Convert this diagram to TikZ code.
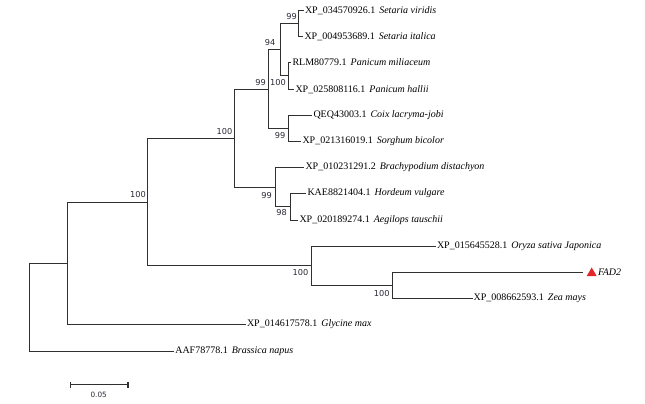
\documentclass[tikz,border=0pt]{standalone}
\usepackage{fontspec}
\setmainfont{Liberation Serif}
\newfontfamily\labfont{DejaVu Sans}
\usetikzlibrary{arrows.meta,shapes.geometric}
\definecolor{treeline}{HTML}{303030}
\definecolor{labcol}{HTML}{2A2A36}
\definecolor{fadred}{HTML}{E3262B}
\begin{document}
\begin{tikzpicture}[x=1pt,y=-1pt,
  branch/.style={draw=treeline,line width=1.8pt,line cap=rect},
  leaf/.style={anchor=west,inner xsep=1.8pt,inner ysep=0pt,font=\fontsize{10}{12}\selectfont,text=black},
  boot/.style={inner sep=0pt,font=\labfont\fontsize{8.2}{9}\selectfont,text=labcol},
  tri/.style={regular polygon,regular polygon sides=3,fill=fadred,minimum size=11.5pt,inner sep=0pt}]
\fill[white] (0,0) rectangle (645,404);
\useasboundingbox (0,0) rectangle (645,404);
% internal nodes
\coordinate (root) at (29.5,307.5);
\coordinate (A) at (67.5,263.5);
\coordinate (B) at (147.5,202.5);
\coordinate (C) at (234.5,138.5);
\coordinate (D) at (311.5,265.5);
\coordinate (I) at (392.5,285.5);
\coordinate (E) at (268.5,89.5);
\coordinate (H) at (280.5,49.5);
\coordinate (J) at (298.5,23.5);
\coordinate (K) at (288.5,75.5);
\coordinate (G) at (288.5,128.5);
\coordinate (M) at (275.5,187.5);
\coordinate (L) at (290.5,206.5);
% leaves
\node[leaf] (viridis) at (303,10.5) {XP\_034570926.1\hspace{0.4em}\textit{Setaria viridis}};
\node[leaf] (italica) at (302.5,36.5) {XP\_004953689.1\hspace{0.4em}\textit{Setaria italica}};
\node[leaf] (milia) at (290.5,62.5) {RLM80779.1\hspace{0.4em}\textit{Panicum miliaceum}};
\node[leaf] (hallii) at (293.5,89.5) {XP\_025808116.1\hspace{0.4em}\textit{Panicum hallii}};
\node[leaf] (coix) at (311.5,115.5) {QEQ43003.1\hspace{0.4em}\textit{Coix lacryma-jobi}};
\node[leaf] (sorghum) at (300.5,141.5) {XP\_021316019.1\hspace{0.4em}\textit{Sorghum bicolor}};
\node[leaf] (brachy) at (303.5,167.5) {XP\_010231291.2\hspace{0.4em}\textit{Brachypodium distachyon}};
\node[leaf] (hordeum) at (305.5,193.5) {KAE8821404.1\hspace{0.4em}\textit{Hordeum vulgare}};
\node[leaf] (aegilops) at (297.5,220.5) {XP\_020189274.1\hspace{0.4em}\textit{Aegilops tauschii}};
\node[leaf] (oryza) at (435,246.5) {XP\_015645528.1\hspace{0.4em}\textit{Oryza sativa Japonica}};
\coordinate (fadend) at (581.7,272.5);
\node[tri] (fadtri) at (591.7,273.2) {};
\node[leaf,anchor=west] (fad) at (596,272.5) {\textit{FAD2}};
\node[leaf] (zea) at (471.7,298.5) {XP\_008662593.1\hspace{0.4em}\textit{Zea mays}};
\node[leaf] (glycine) at (245,324.5) {XP\_014617578.1\hspace{0.4em}\textit{Glycine max}};
\node[leaf] (brassica) at (173.3,351.5) {AAF78778.1\hspace{0.4em}\textit{Brassica napus}};
% branches
\draw[branch] (root) |- (A);
\draw[branch] (root) |- (brassica.west);
\draw[branch] (A) |- (B);
\draw[branch] (A) |- (glycine.west);
\draw[branch] (B) |- (C);
\draw[branch] (B) |- (D);
\draw[branch] (C) |- (E);
\draw[branch] (C) |- (M);
\draw[branch] (E) |- (H);
\draw[branch] (E) |- (G);
\draw[branch] (H) |- (J);
\draw[branch] (H) |- (K);
\draw[branch] (J) |- (viridis.west);
\draw[branch] (J) |- (italica.west);
\draw[branch] (K) |- (milia.west);
\draw[branch] (K) |- (hallii.west);
\draw[branch] (G) |- (coix.west);
\draw[branch] (G) |- (sorghum.west);
\draw[branch] (M) |- (brachy.west);
\draw[branch] (M) |- (L);
\draw[branch] (L) |- (hordeum.west);
\draw[branch] (L) |- (aegilops.west);
\draw[branch] (D) |- (oryza.west);
\draw[branch] (D) |- (I);
\draw[branch] (I) |- (fadend);
\draw[branch] (I) |- (zea.west);
% bootstrap values
\node[boot] (bJ) at (291.5,16.5) {99};
\node[boot] (bH) at (270,42.5) {94};
\node[boot] (bE) at (260.5,82.5) {99};
\node[boot] (bK) at (278,83) {100};
\node[boot] (bG) at (280,135.5) {99};
\node[boot] (bC) at (224.5,131.5) {100};
\node[boot] (bM) at (266.5,195.5) {99};
\node[boot] (bL) at (281.5,213) {98};
\node[boot] (bB) at (138,195) {100};
\node[boot] (bD) at (300.5,272.7) {100};
\node[boot] (bI) at (381.7,293.7) {100};
% scale bar
\coordinate (sbL) at (69.5,384.5);
\coordinate (sbR) at (128.5,384.5);
\draw[branch,line cap=butt,{Bar[width=6pt,line width=1.8pt]}-{Bar[width=6pt,line width=1.8pt]}] (sbL) -- (sbR);
\node[boot,font=\labfont\fontsize{7.3}{8}\selectfont] (sblab) at (98.7,394.5) {0.05};
\end{tikzpicture}
\end{document}
